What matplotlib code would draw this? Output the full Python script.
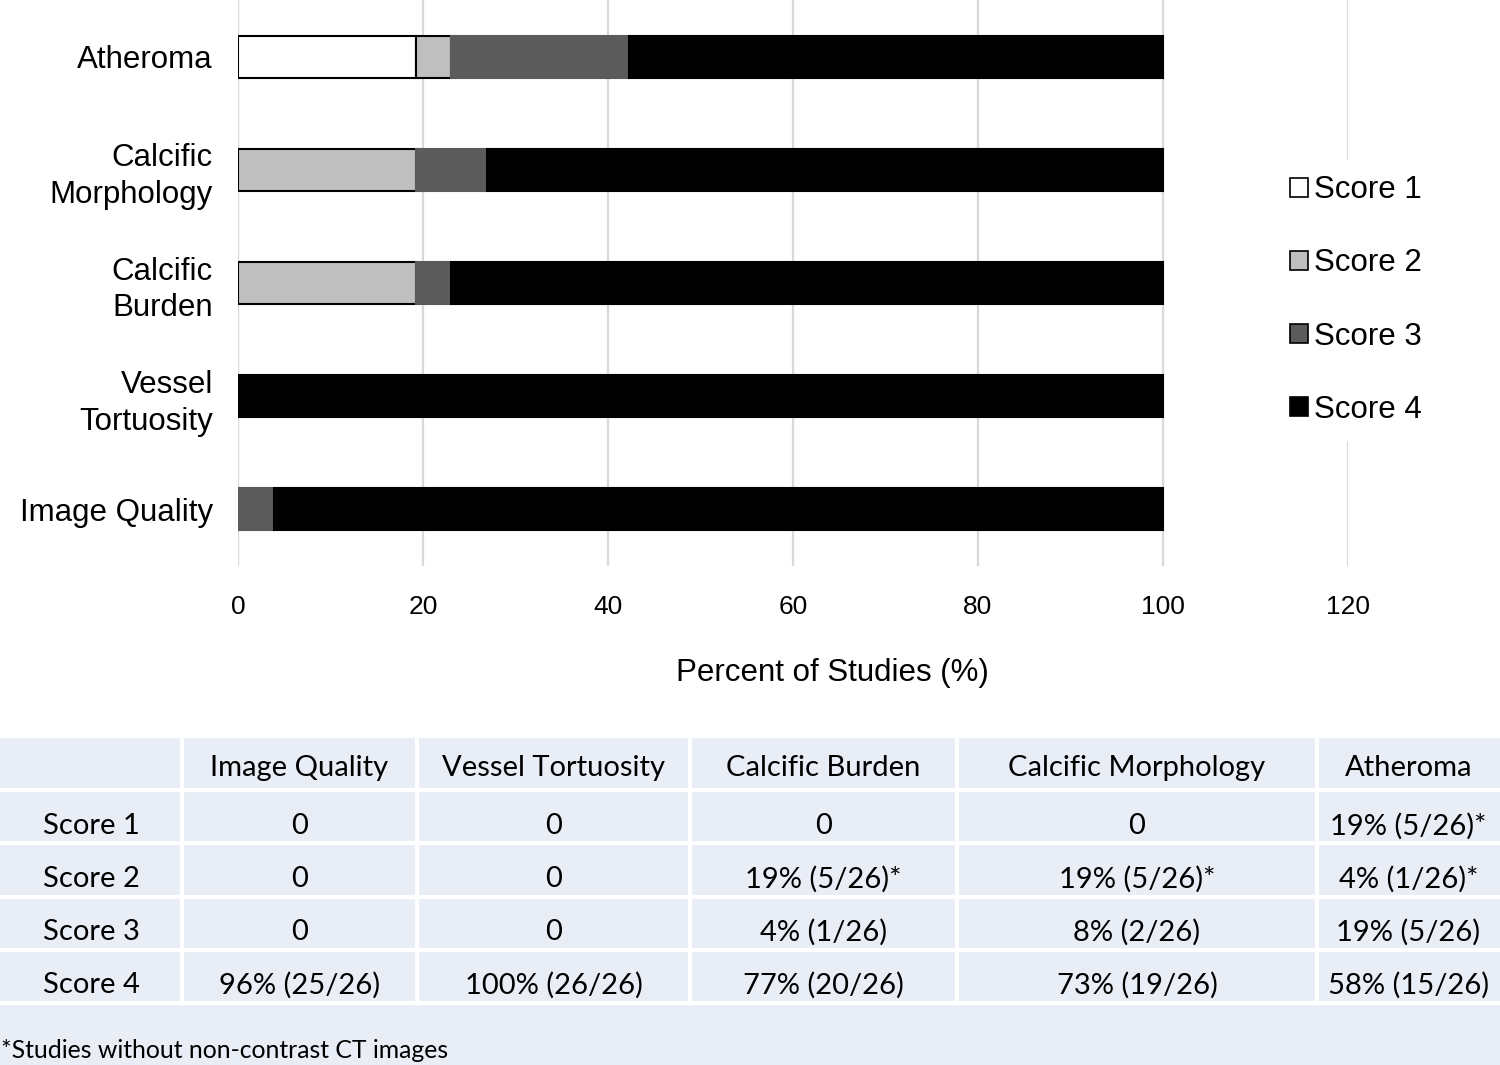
import matplotlib
matplotlib.use("Agg")
import matplotlib.pyplot as plt
from matplotlib.patches import Rectangle

# ---------------- data ----------------
categories = ["Atheroma", "Calcific\nMorphology", "Calcific\nBurden", "Vessel\nTortuosity", "Image Quality"]
series_names = ["Score 1", "Score 2", "Score 3", "Score 4"]
score1 = [19.23, 0, 0, 0, 0]
score2 = [3.85, 19.23, 19.23, 0, 0]
score3 = [19.23, 7.69, 3.85, 0, 3.85]
score4 = [57.69, 73.08, 76.92, 100, 96.15]
series_colors = ["#FFFFFF", "#BFBFBF", "#5B5B5B", "#000000"]
x_ticks = [0, 20, 40, 60, 80, 100, 120]
x_label = "Percent of Studies (%)"

table_cols = ["", "Image Quality", "Vessel Tortuosity", "Calcific Burden", "Calcific Morphology", "Atheroma"]
table_rows = ["Score 1", "Score 2", "Score 3", "Score 4"]
table_image_quality = ["0", "0", "0", "96% (25/26)"]
table_vessel = ["0", "0", "0", "100% (26/26)"]
table_burden = ["0", "19% (5/26)*", "4% (1/26)", "77% (20/26)"]
table_morph = ["0", "19% (5/26)*", "8% (2/26)", "73% (19/26)"]
table_atheroma = ["19% (5/26)*", "4% (1/26)*", "19% (5/26)", "58% (15/26)"]
footnote = "*Studies without non-contrast CT images"

# ---------------- figure ----------------
W, H = 1500, 1065
fig = plt.figure(figsize=(W / 100, H / 100), dpi=100)
plt.rcParams["font.family"] = ["Liberation Sans", "DejaVu Sans"]

def fx(px):
    return px / W

def fy(py):
    return 1 - py / H

ax = fig.add_axes([fx(238), fy(566), fx(1348) - fx(238), fy(0) - fy(566)])
ypos = list(range(len(categories)))
series = [score1, score2, score3, score4]
left = [0.0] * len(categories)
for name, vals, col in zip(series_names, series, series_colors):
    edge = "#000000" if col in ("#FFFFFF", "#BFBFBF") else col
    ax.barh(ypos, vals, left=left, height=0.37, color=col, edgecolor=edge,
            linewidth=1.5, label=name, zorder=3)
    left = [l + v for l, v in zip(left, vals)]

ax.set_xlim(0, 120)
ax.set_ylim(4.5, -0.5)
ax.set_yticks(ypos)
ax.set_yticklabels(categories, fontsize=22.5, ha="right", linespacing=1.3)
for lbl in ax.get_yticklabels():
    lbl.set_va("center_baseline")
ax.set_xticks(x_ticks)
ax.set_xticklabels([str(t) for t in x_ticks], fontsize=19)
ax.tick_params(axis="both", length=0)
ax.tick_params(axis="x", pad=21)
ax.tick_params(axis="y", pad=18)
for s in ax.spines.values():
    s.set_visible(False)
ax.grid(axis="x", color="#D9D9D9", linewidth=1.6, zorder=0)
ax.set_axisbelow(True)

fig.text(fx(832), fy(673), x_label, fontsize=22.5, ha="center", va="center")

leg_handles = [Rectangle((0, 0), 1, 1, facecolor=c, edgecolor="black", linewidth=1.2)
               for c in series_colors]
leg = ax.legend(leg_handles, series_names, loc="center", bbox_to_anchor=(fx(1356), fy(300)),
                bbox_transform=fig.transFigure, frameon=True, fontsize=22.5,
                handlelength=0.55, handleheight=0.55, handletextpad=0.2,
                labelspacing=1.38, borderpad=0.5)
leg.get_frame().set_facecolor("white")
leg.get_frame().set_edgecolor("white")
leg.get_frame().set_alpha(1)
leg.set_zorder(5)

# ---------------- table ----------------
bg = "#E9EDF6"
fig.patches.append(Rectangle((fx(0), fy(1065)), 1, fy(738) - fy(1065),
                             transform=fig.transFigure, facecolor=bg, edgecolor="none", zorder=0))
col_edges = [0, 182, 417, 690, 957, 1317, 1500]
row_edges = [738, 790, 843, 897, 950, 1003]
lw = 3
for xe in col_edges[1:-1]:
    fig.add_artist(plt.Line2D([fx(xe), fx(xe)], [fy(738), fy(1003)], color="white",
                              linewidth=lw, transform=fig.transFigure))
for ye in row_edges[1:]:
    fig.add_artist(plt.Line2D([0, 1], [fy(ye), fy(ye)], color="white",
                              linewidth=lw, transform=fig.transFigure))

tfont = ["Lato", "DejaVu Sans"]
tsize = 21
for i, c in enumerate(table_cols):
    xc = (col_edges[i] + col_edges[i + 1]) / 2
    fig.text(fx(xc), fy(768), c, fontsize=tsize, family=tfont, ha="center", va="center")
columns = [table_rows, table_image_quality, table_vessel, table_burden, table_morph, table_atheroma]
row_centers = [826, 879, 932, 985]
for i, colvals in enumerate(columns):
    xc = (col_edges[i] + col_edges[i + 1]) / 2
    for j, v in enumerate(colvals):
        fig.text(fx(xc), fy(row_centers[j]), v, fontsize=tsize, family=tfont, ha="center", va="center")

fig.text(fx(1), fy(1051), footnote, fontsize=17.8, family=tfont, ha="left", va="center")

fig.savefig("out.png", dpi=100, facecolor="white")
